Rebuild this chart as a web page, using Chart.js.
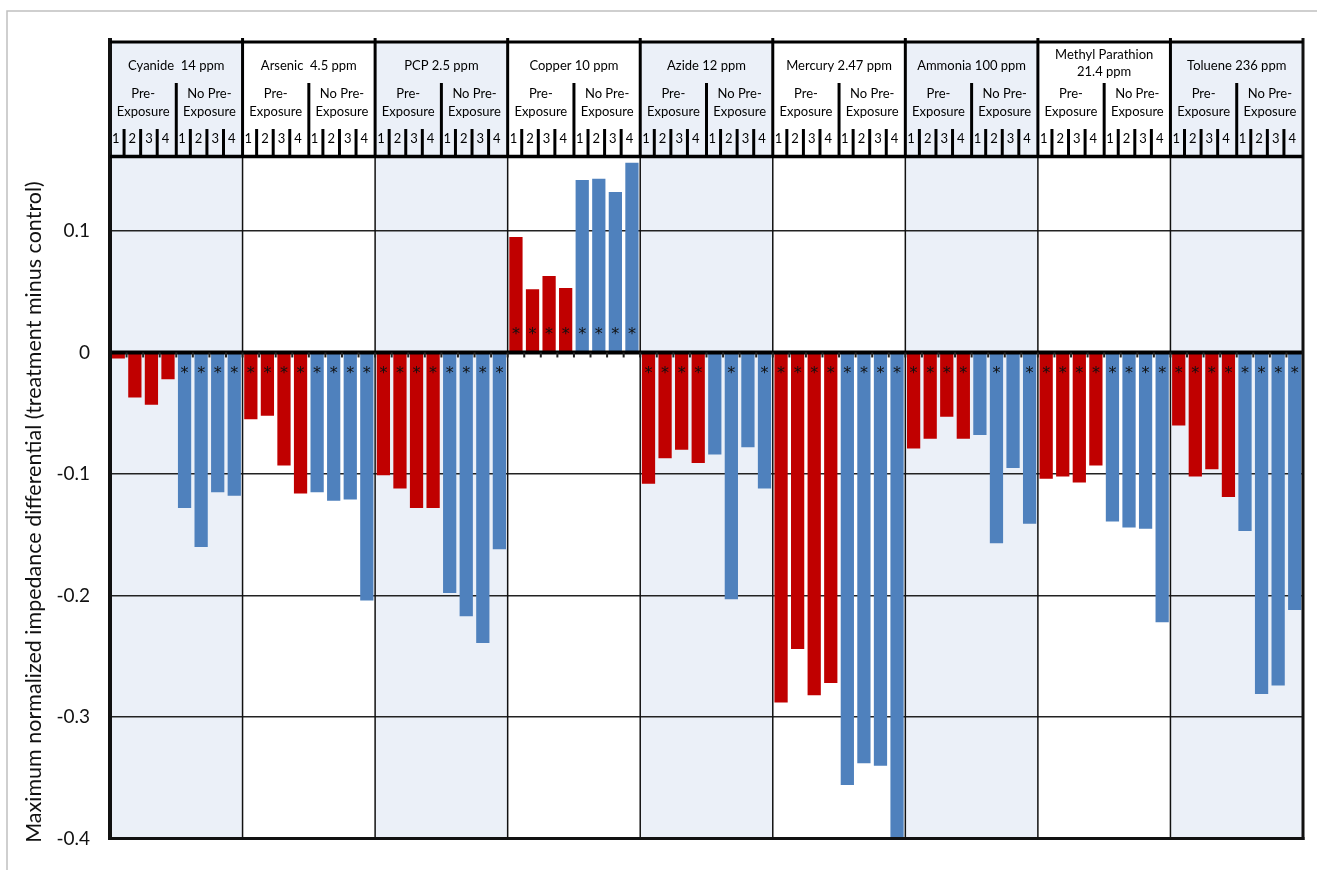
<!DOCTYPE html>
<html>
<head>
<meta charset="utf-8">
<title>Maximum normalized impedance differential</title>
<script src="https://cdn.jsdelivr.net/npm/chart.js@4.4.1/dist/chart.umd.min.js"></script>
<style>
  html, body { margin: 0; padding: 0; background: #fff; }
  #wrap { width: 1317px; height: 870px; }
</style>
</head>
<body>
<div id="wrap"><canvas id="impedanceChart" width="1317" height="870"></canvas></div>
<script>
// chemicals and exposure concentrations (one header cell each)
const chemicals = [
    ['Cyanide  14 ppm'], ['Arsenic  4.5 ppm'], ['PCP 2.5 ppm'], ['Copper 10 ppm'],
    ['Azide 12 ppm'], ['Mercury 2.47 ppm'], ['Ammonia 100 ppm'],
    ['Methyl Parathion', '21.4 ppm'], ['Toluene 236 ppm']
];
const subGroups = [['Pre-', 'Exposure'], ['No Pre-', 'Exposure']];
const replicates = ['1', '2', '3', '4'];
const yTitle = 'Maximum normalized impedance differential (treatment minus control)';

// treatment minus control, replicates 1-4 per chemical
const preExposure = [
    [-0.005, -0.037, -0.043, -0.022],
    [-0.055, -0.052, -0.093, -0.116],
    [-0.101, -0.112, -0.128, -0.128],
    [0.095, 0.052, 0.063, 0.053],
    [-0.108, -0.087, -0.080, -0.091],
    [-0.288, -0.244, -0.282, -0.272],
    [-0.079, -0.071, -0.053, -0.071],
    [-0.104, -0.102, -0.107, -0.093],
    [-0.060, -0.102, -0.096, -0.119]
];
const noPreExposure = [
    [-0.128, -0.160, -0.115, -0.118],
    [-0.115, -0.122, -0.121, -0.204],
    [-0.198, -0.217, -0.239, -0.162],
    [0.142, 0.143, 0.132, 0.156],
    [-0.084, -0.203, -0.078, -0.112],
    [-0.356, -0.338, -0.340, -0.400],
    [-0.068, -0.157, -0.095, -0.141],
    [-0.139, -0.144, -0.145, -0.222],
    [-0.147, -0.281, -0.274, -0.212]
];
// 1 = significant difference (marked with *)
const preSignificant = [
    [0, 0, 0, 0], [1, 1, 1, 1], [1, 1, 1, 1], [1, 1, 1, 1], [1, 1, 1, 1],
    [1, 1, 1, 1], [1, 1, 1, 1], [1, 1, 1, 1], [1, 1, 1, 1]
];
const noPreSignificant = [
    [1, 1, 1, 1], [1, 1, 1, 1], [1, 1, 1, 1], [1, 1, 1, 1], [0, 1, 0, 1],
    [1, 1, 1, 1], [0, 1, 0, 1], [1, 1, 1, 1], [1, 1, 1, 1]
];
const yTicks = [0.1, 0, -0.1, -0.2, -0.3, -0.4];

const FONT = "Lato, 'Open Sans', sans-serif";
const SHADE = '#EBF0F8';
const RED = '#C00000';
const BLUE = '#4F81BD';

// flatten into one slot per bar: 4 pre-exposure then 4 no-pre-exposure per chemical
const labels = [];
const preData = [];
const noPreData = [];
const starFlags = [];
chemicals.forEach((c, g) => {
    for (let k = 0; k < 4; k++) {
        labels.push(c.join(' ') + ' pre ' + replicates[k]);
        preData.push(preExposure[g][k]);
        noPreData.push(null);
        starFlags.push(preSignificant[g][k]);
    }
    for (let k = 0; k < 4; k++) {
        labels.push(c.join(' ') + ' no pre ' + replicates[k]);
        preData.push(null);
        noPreData.push(noPreExposure[g][k]);
        starFlags.push(noPreSignificant[g][k]);
    }
});

function slotWidth(chart) {
    const x = chart.scales.x;
    return x.getPixelForValue(1) - x.getPixelForValue(0);
}
function slotLeft(chart, i) {
    return chart.scales.x.getPixelForValue(i) - slotWidth(chart) / 2;
}

function line(ctx, x1, y1, x2, y2, w, color) {
    ctx.beginPath();
    ctx.lineWidth = w;
    ctx.strokeStyle = color || '#000';
    ctx.moveTo(x1, y1);
    ctx.lineTo(x2, y2);
    ctx.stroke();
}

const tablePlugin = {
    id: 'tablePlugin',
    beforeDraw(chart) {
        const { ctx, chartArea: a } = chart;
        const w = slotWidth(chart);
        const headTop = a.top - 116;
        ctx.save();
        ctx.fillStyle = '#fff';
        ctx.fillRect(0, 0, chart.width, chart.height);
        // outer frame
        ctx.beginPath();
        ctx.lineWidth = 1.5;
        ctx.strokeStyle = '#c0c0c0';
        ctx.moveTo(7, chart.height);
        ctx.lineTo(7, 11);
        ctx.lineTo(chart.width, 11);
        ctx.stroke();
        // alternate shaded columns (header + plot)
        ctx.fillStyle = SHADE;
        chemicals.forEach((c, g) => {
            if (g % 2) return;
            ctx.fillRect(slotLeft(chart, g * 8), headTop, w * 8, a.bottom - headTop);
        });
        // y axis title
        ctx.translate(34, 512);
        ctx.rotate(-Math.PI / 2);
        ctx.fillStyle = '#111';
        ctx.font = '21.5px ' + FONT;
        ctx.textAlign = 'center';
        ctx.textBaseline = 'middle';
        ctx.fillText(yTitle, 0, 0);
        ctx.restore();
    },
    afterDatasetsDraw(chart) {
        const { ctx, chartArea: a } = chart;
        const y = chart.scales.y;
        const w = slotWidth(chart);
        const headTop = a.top - 116;
        const zero = y.getPixelForValue(0);
        ctx.save();

        // significance stars
        ctx.fillStyle = '#111';
        ctx.font = '16px "DejaVu Sans", sans-serif';
        ctx.textAlign = 'center';
        ctx.textBaseline = 'alphabetic';
        [0, 1].forEach(d => {
            chart.getDatasetMeta(d).data.forEach((bar, i) => {
                const v = chart.data.datasets[d].data[i];
                if (v === null || !starFlags[i]) return;
                const sy = v < 0 ? bar.base + 26 : bar.base - 13;
                ctx.fillText('*', bar.x, sy);
            });
        });

        // group dividers through the plot
        for (let g = 1; g < chemicals.length; g++) {
            const gx = slotLeft(chart, g * 8);
            line(ctx, gx, a.top, gx, a.bottom, 1.5, '#111');
        }

        // zero line with small ticks between bars
        line(ctx, a.left, zero, a.right, zero, 4, '#000');
        for (let i = 0; i <= labels.length; i++) {
            const tx = slotLeft(chart, i);
            line(ctx, tx, zero, tx, zero + 5, 2, '#222');
        }

        // frame of plot
        line(ctx, a.left, headTop - 4, a.left, a.bottom + 1.5, 4, '#111');
        line(ctx, a.right, headTop - 4, a.right, a.bottom + 1.5, 3, '#111');
        line(ctx, a.left - 2, a.bottom, a.right + 1.5, a.bottom, 3, '#111');

        // header table
        line(ctx, a.left, headTop, a.right, headTop, 3, '#000');
        line(ctx, a.left, a.top - 1.5, a.right, a.top - 1.5, 3.5, '#000');
        ctx.fillStyle = '#000';
        ctx.textBaseline = 'middle';
        ctx.textAlign = 'center';
        chemicals.forEach((name, g) => {
            const gl = slotLeft(chart, g * 8);
            const gc = gl + w * 4;
            if (g > 0) line(ctx, gl, headTop - 4, gl, a.top, 3, '#000');
            ctx.font = '13px ' + FONT;
            if (name.length === 1) {
                ctx.fillText(name[0], gc, headTop + 24);
            } else {
                ctx.fillText(name[0], gc, headTop + 13);
                ctx.fillText(name[1], gc, headTop + 30);
            }
            subGroups.forEach((sub, s) => {
                const sl = gl + s * w * 4;
                const sc = sl + w * 2;
                if (s > 0) line(ctx, sl, headTop + 41, sl, a.top, 3, '#000');
                ctx.fillText(sub[0], sc, headTop + 52);
                ctx.fillText(sub[1], sc, headTop + 70);
                replicates.forEach((r, k) => {
                    const rl = sl + k * w;
                    if (k > 0) line(ctx, rl - 2.5, headTop + 87, rl - 2.5, a.top, 3, '#000');
                    ctx.fillText(r, rl + w / 2 - 2.5, headTop + 97);
                });
            });
        });
        ctx.restore();
    }
};

new Chart(document.getElementById('impedanceChart'), {
    type: 'bar',
    data: {
        labels: labels,
        datasets: [
            { label: 'Pre-Exposure', data: preData, backgroundColor: RED },
            { label: 'No Pre-Exposure', data: noPreData, backgroundColor: BLUE }
        ]
    },
    options: {
        responsive: false,
        animation: false,
        layout: { padding: { left: 0, top: 158, right: 14, bottom: 31 } },
        datasets: {
            bar: { grouped: false, categoryPercentage: 1, barPercentage: 0.8, borderWidth: 0 }
        },
        scales: {
            x: { display: false },
            y: {
                min: -0.4,
                max: 0.16,
                afterBuildTicks: scale => {
                    scale.ticks = yTicks.map(v => ({ value: v }));
                },
                afterFit: scale => { scale.width = 110; },
                ticks: {
                    padding: 20,
                    color: '#111',
                    font: { family: FONT, size: 19 },
                    callback: v => String(Math.round(v * 10) / 10)
                },
                grid: {
                    drawTicks: false,
                    color: '#222',
                    lineWidth: ctx => (ctx.tick && ctx.tick.value === 0 ? 0 : 1.5)
                },
                border: { display: false },
                title: { display: false }
            }
        },
        plugins: {
            legend: { display: false },
            tooltip: { enabled: false }
        }
    },
    plugins: [tablePlugin]
});
</script>
</body>
</html>
